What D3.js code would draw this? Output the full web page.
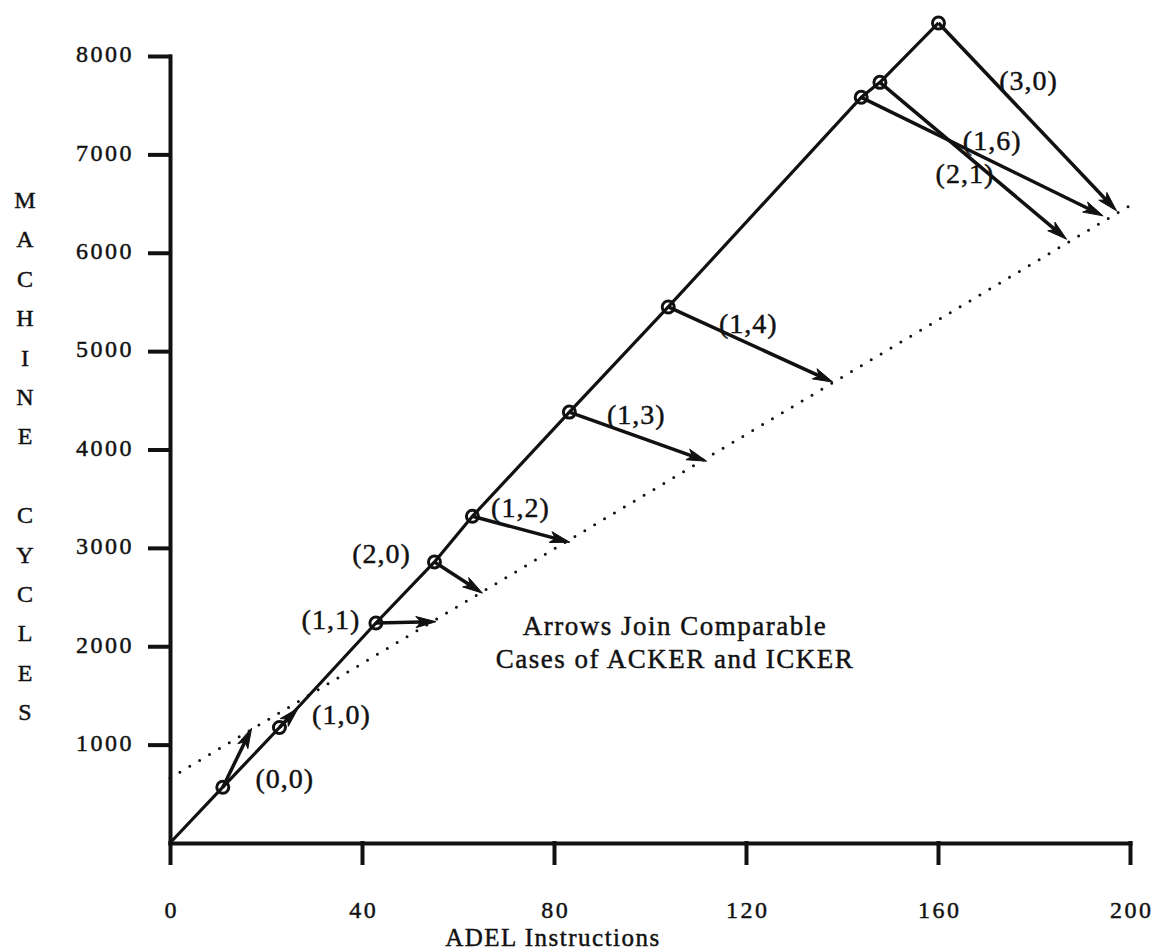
<!DOCTYPE html>
<html><head><meta charset="utf-8">
<script src="https://cdn.jsdelivr.net/npm/d3@7"></script>
<style>
html,body{margin:0;padding:0;background:#fff;}
svg{display:block;background:#fff;}
text{font-family:"Liberation Serif","Times New Roman",serif;fill:#111;stroke:#111;stroke-width:0.45px;}
</style></head><body>
<svg id="chart" width="1157" height="951"></svg>
<script>
// ---- data ----
const caseLabels  = ["(0,0)","(1,0)","(1,1)","(2,0)","(1,2)","(1,3)","(1,4)","(1,6)","(2,1)","(3,0)"];
const ackerInstr  = [11.0, 22.8, 42.9, 55.1, 63.0, 83.2, 103.8, 144.0, 147.9, 160.1];
const ackerCycles = [567, 1174, 2236, 2857, 3321, 4380, 5449, 7580, 7732, 8336];
const ickerInstr  = [17.0, 26.7, 55.4, 65.1, 83.3, 111.8, 138.1, 194.4, 186.8, 197.2];
const ickerCycles = [1167, 1371, 2250, 2540, 3057, 3881, 4685, 6375, 6137, 6426];
const originInstr = [0];
const originCycles = [0];
const trendInstr  = [0, 201];
const trendCycles = [660, 6510];
const xTicks = [0, 40, 80, 120, 160, 200];
const yTicks = [1000, 2000, 3000, 4000, 5000, 6000, 7000, 8000];
const xTitle = "ADEL Instructions";
const yTitle = "MACHINE CYCLES";
const noteLines = ["Arrows Join Comparable", "Cases of ACKER and ICKER"];

// ---- layout (pixel offsets of case labels from their ACKER point) ----
const labelOffsets = [[62,-7],[62,-11],[-45,-2],[-53,-7],[48,-7],[67,4],[80,18],[131,45],[85,93],[90,59]];

const svg = d3.select("#chart");
const x = d3.scaleLinear().domain([0, 200]).range([170, 1130]);
const y = d3.scaleLinear().domain([0, 8000]).range([843, 56]);

const ink = "#111";

// axes
const xAxis = d3.axisBottom(x).tickValues(xTicks).tickSize(20).tickSizeOuter(0).tickFormat(d3.format("d"));
const gx = svg.append("g").attr("transform", `translate(0,${y(0)})`).call(xAxis);
const yAxis = d3.axisLeft(y).tickValues(yTicks).tickSize(20).tickSizeOuter(0).tickFormat(d3.format("d"));
const gy = svg.append("g").attr("transform", `translate(${x(0)},0)`).call(yAxis);

[gx, gy].forEach(g => {
  g.select(".domain").attr("stroke", ink).attr("stroke-width", 4).attr("stroke-linecap", "square");
  g.selectAll(".tick line").attr("stroke", ink).attr("stroke-width", 4).attr("stroke-linecap", "square");
  g.selectAll(".tick text").attr("fill", ink).attr("stroke", ink).attr("stroke-width", 0.45)
    .style("font-family", '"Liberation Serif", serif')
    .style("font-size", "24px").style("letter-spacing", "2.5px");
});
gx.selectAll(".tick text").attr("y", 75).attr("dy", 0).attr("dx", 1.2);
gy.selectAll(".tick text").attr("x", -36).attr("dy", "0.24em");

// axis titles
svg.append("text").attr("x", 553).attr("y", 946).attr("text-anchor", "middle")
  .style("font-size", "25px").style("letter-spacing", "1.5px").text(xTitle);

const yt = svg.append("text").attr("text-anchor", "middle").style("font-size", "24px");
yTitle.split("").forEach((ch, i) => {
  yt.append("tspan").attr("x", 25).attr("y", 208 + i * 39.4).text(ch === " " ? "\u00a0" : ch);
});

// dotted trend line
svg.append("path")
  .datum(trendInstr.map((v, i) => [v, trendCycles[i]]))
  .attr("d", d3.line().x(d => x(d[0])).y(d => y(d[1])))
  .attr("fill", "none").attr("stroke", ink).attr("stroke-width", 3)
  .attr("stroke-linecap", "round").attr("stroke-dasharray", "0 11.5");

// main ACKER line through origin and points (in order of instructions)
const mainPts = originInstr.map((v, i) => [v, originCycles[i]])
  .concat(ackerInstr.map((v, i) => [v, ackerCycles[i]]))
  .sort((a, b) => a[0] - b[0]);
svg.append("path").datum(mainPts)
  .attr("d", d3.line().x(d => x(d[0])).y(d => y(d[1])))
  .attr("fill", "none").attr("stroke", ink).attr("stroke-width", 3.2).attr("stroke-linejoin", "round");

// arrows ACKER -> ICKER
const headLen = 20, headHalf = 5.6, notch = 15;
const ag = svg.append("g");
ackerInstr.forEach((v, i) => {
  const x0 = x(v), y0 = y(ackerCycles[i]);
  const x1 = x(ickerInstr[i]), y1 = y(ickerCycles[i]);
  const dx = x1 - x0, dy = y1 - y0, len = Math.hypot(dx, dy);
  const ux = dx / len, uy = dy / len, nx = -uy, ny = ux;
  ag.append("line").attr("x1", x0).attr("y1", y0)
    .attr("x2", x1 - ux * notch).attr("y2", y1 - uy * notch)
    .attr("stroke", ink).attr("stroke-width", 3.5);
  const bx = x1 - ux * headLen, by = y1 - uy * headLen;
  ag.append("path")
    .attr("d", `M${x1},${y1} L${bx + nx * headHalf},${by + ny * headHalf} L${x1 - ux * notch},${y1 - uy * notch} L${bx - nx * headHalf},${by - ny * headHalf} Z`)
    .attr("fill", ink).attr("stroke", ink).attr("stroke-width", 1).attr("stroke-linejoin", "round");
});

// ACKER circles
svg.append("g").selectAll("circle").data(ackerInstr).join("circle")
  .attr("cx", d => x(d)).attr("cy", (d, i) => y(ackerCycles[i])).attr("r", 6)
  .attr("fill", "none").attr("stroke", ink).attr("stroke-width", 3);

// case labels
svg.append("g").selectAll("text").data(caseLabels).join("text")
  .attr("x", (d, i) => x(ackerInstr[i]) + labelOffsets[i][0])
  .attr("y", (d, i) => y(ackerCycles[i]) + labelOffsets[i][1])
  .attr("dy", "0.27em").attr("text-anchor", "middle")
  .style("font-size", "28px").style("letter-spacing", "1px")
  .text(d => d);

// note
noteLines.forEach((t, i) => {
  svg.append("text").attr("x", 675).attr("y", 635 + i * 33).attr("text-anchor", "middle")
    .style("font-size", "27px").style("letter-spacing", "1.5px").text(t);
});
</script>
</body></html>
